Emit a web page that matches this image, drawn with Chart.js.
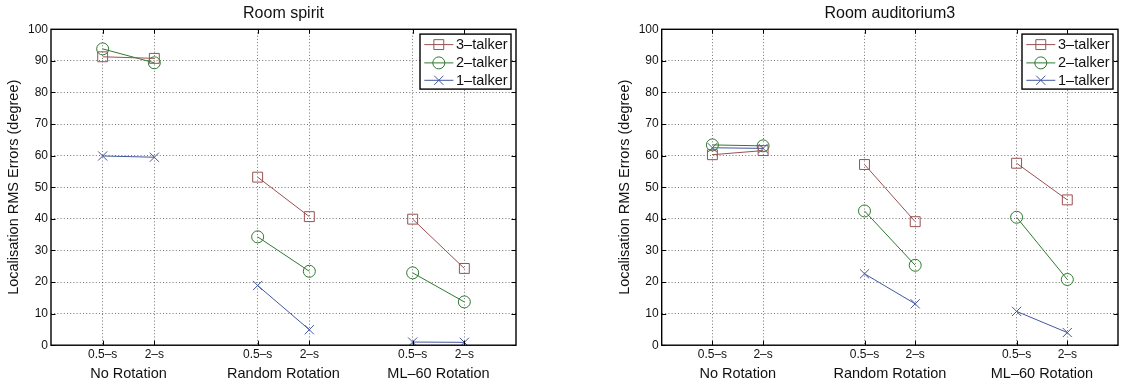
<!DOCTYPE html>
<html>
<head>
<meta charset="utf-8">
<script src="https://cdn.jsdelivr.net/npm/chart.js@4/dist/chart.umd.min.js"></script>
<style>
  html, body { margin: 0; padding: 0; background: #fff; }
  #wrap { position: relative; width: 1126px; height: 385px; overflow: hidden; }
  canvas { position: absolute; top: 0; }
  #c1 { left: 0; }
  #c2 { left: 563px; }
</style>
</head>
<body>
<div id="wrap">
  <canvas id="c1" width="563" height="385"></canvas>
  <canvas id="c2" width="563" height="385"></canvas>
</div>
<script>
// Localisation RMS error (degrees) per condition: [No Rot 0.5s, No Rot 2s, Random 0.5s, Random 2s, ML-60 0.5s, ML-60 2s]
const durationLabels = ['0.5–s', '2–s'];
const conditionLabels = ['No Rotation', 'Random Rotation', 'ML–60 Rotation'];
const seriesNames = ['3–talker', '2–talker', '1–talker'];
const yTickValues = [0, 10, 20, 30, 40, 50, 60, 70, 80, 90, 100];

const spiritThree = [91.3, 90.8, 53.2, 40.7, 39.9, 24.3];
const spiritTwo   = [93.8, 89.4, 34.3, 23.4, 22.9, 13.7];
const spiritOne   = [59.9, 59.5, 18.9, 4.9, 1.0, 0.9];

const audThree = [60.3, 61.6, 57.2, 39.1, 57.6, 46.0];
const audTwo   = [63.4, 63.1, 42.5, 25.3, 40.5, 20.8];
const audOne   = [62.5, 62.3, 22.6, 13.1, 10.7, 4.0];

const FONT = '"Liberation Sans", Arial, Helvetica, sans-serif';
const TEXT = '#111';
const seriesStyles = [
  { color: '#9a5050', pointStyle: 'rect', radius: 7 },
  { color: '#2f7a2f', pointStyle: 'circle', radius: 6 },
  { color: '#4457a0', pointStyle: 'crossRot', radius: 6.5 }
];

// x position of condition c, duration d; groups separated by an empty slot
function xPos(c, d) { return 2 + 3 * c + d; }

function toPoints(values) {
  const pts = [];
  for (let c = 0; c < conditionLabels.length; c++) {
    for (let d = 0; d < durationLabels.length; d++) {
      pts.push({ x: xPos(c, d), y: values[c * 2 + d] });
    }
    if (c < conditionLabels.length - 1) pts.push({ x: xPos(c, 2), y: null }); // break the line between groups
  }
  return pts;
}

function makeDatasets(series) {
  return series.map((vals, i) => ({
    label: seriesNames[i],
    data: toPoints(vals),
    borderColor: seriesStyles[i].color,
    backgroundColor: 'rgba(0,0,0,0)',
    borderWidth: 1,
    pointStyle: seriesStyles[i].pointStyle,
    pointRadius: seriesStyles[i].radius,
    pointBorderWidth: 1,
    pointBorderColor: seriesStyles[i].color,
    pointBackgroundColor: 'rgba(0,0,0,0)',
    spanGaps: false,
    tension: 0
  }));
}

// Axes box with inward tick marks on all four sides
const framePlugin = {
  id: 'frame',
  afterDraw(chart) {
    const { ctx, chartArea: a, scales } = chart;
    ctx.save();
    ctx.strokeStyle = '#000';
    ctx.lineWidth = 1;
    const tl = 4.5;
    ctx.beginPath();
    scales.y.ticks.forEach(t => {
      const p = Math.round(scales.y.getPixelForValue(t.value)) + 0.5;
      ctx.moveTo(a.left, p); ctx.lineTo(a.left + tl, p);
      ctx.moveTo(a.right, p); ctx.lineTo(a.right - tl, p);
    });
    scales.x.ticks.forEach(t => {
      const p = Math.round(scales.x.getPixelForValue(t.value)) + 0.5;
      ctx.moveTo(p, a.bottom); ctx.lineTo(p, a.bottom - tl);
      ctx.moveTo(p, a.top); ctx.lineTo(p, a.top + tl);
    });
    ctx.stroke();
    ctx.lineWidth = 1.4;
    ctx.strokeRect(a.left, a.top, a.right - a.left, a.bottom - a.top);
    ctx.restore();
  }
};

function drawMarker(ctx, style, color, x, y) {
  ctx.strokeStyle = color;
  ctx.fillStyle = 'rgba(0,0,0,0)';
  ctx.lineWidth = 1;
  if (Chart.helpers && Chart.helpers.drawPoint) {
    Chart.helpers.drawPoint(ctx, { pointStyle: style.pointStyle, radius: style.radius, rotation: 0, borderWidth: 1 }, x, y);
  }
}

// Boxed legend in the upper right corner of the plot area
const boxLegendPlugin = {
  id: 'boxLegend',
  afterDraw(chart) {
    const { ctx, chartArea: a } = chart;
    const w = 91, h = 55;
    const left = a.right - 5 - w, top = a.top + 4.8;
    ctx.save();
    ctx.fillStyle = '#fff';
    ctx.fillRect(left, top, w, h);
    ctx.strokeStyle = '#000';
    ctx.lineWidth = 1.4;
    ctx.strokeRect(left, top, w, h);
    const rows = [15.3, 33.6, 51.0];
    chart.data.datasets.forEach((ds, i) => {
      const y = a.top + rows[i];
      const st = seriesStyles[i];
      ctx.strokeStyle = st.color;
      ctx.lineWidth = 1;
      ctx.beginPath();
      ctx.moveTo(left + 4.3, y);
      ctx.lineTo(left + 33.3, y);
      ctx.stroke();
      drawMarker(ctx, st, st.color, left + 18.8, y);
      ctx.fillStyle = TEXT;
      ctx.font = '14.5px ' + FONT;
      ctx.textBaseline = 'middle';
      ctx.textAlign = 'left';
      ctx.fillText(ds.label, left + 36, y + 0.5);
    });
    ctx.restore();
  }
};

function buildChart(canvasId, title, series, padLeft, padRight) {
  return new Chart(document.getElementById(canvasId), {
    type: 'line',
    data: { datasets: makeDatasets(series) },
    options: {
      responsive: false,
      animation: false,
      devicePixelRatio: 1,
      layout: { padding: { left: padLeft, right: padRight, top: 0, bottom: 2.2 } },
      plugins: {
        legend: { display: false },
        tooltip: { enabled: false },
        title: {
          display: true,
          text: title,
          fullSize: false,
          color: TEXT,
          font: { family: FONT, size: 16, weight: 'normal', lineHeight: 1.2 },
          padding: { top: 4.3, bottom: 5.8 }
        }
      },
      scales: {
        x: {
          type: 'linear',
          position: 'bottom',
          weight: 1,
          min: 1,
          max: 10,
          afterBuildTicks(axis) {
            const ticks = [];
            for (let c = 0; c < conditionLabels.length; c++)
              for (let d = 0; d < durationLabels.length; d++) ticks.push({ value: xPos(c, d) });
            axis.ticks = ticks;
          },
          ticks: {
            autoSkip: false,
            maxRotation: 0,
            padding: 2.4,
            color: TEXT,
            font: { family: FONT, size: 12, lineHeight: 1.2 },
            callback: (v, i) => durationLabels[i % durationLabels.length]
          },
          grid: { color: 'rgba(0,0,0,0.55)', lineWidth: 1, drawTicks: false },
          border: { display: false, dash: [1, 2.2] }
        },
        x2: {
          type: 'linear',
          position: 'bottom',
          weight: 2,
          min: 1,
          max: 10,
          afterBuildTicks(axis) {
            axis.ticks = conditionLabels.map((_, c) => ({ value: xPos(c, 0.5) }));
          },
          ticks: {
            autoSkip: false,
            maxRotation: 0,
            padding: 0.5,
            color: TEXT,
            font: { family: FONT, size: 14.5, lineHeight: 1.2 },
            callback: (v, i) => conditionLabels[i]
          },
          grid: { display: false, drawTicks: false },
          border: { display: false }
        },
        y: {
          type: 'linear',
          min: 0,
          max: 100,
          afterBuildTicks(axis) {
            axis.ticks = yTickValues.map(v => ({ value: v }));
          },
          afterFit(axis) { axis.width = 51; },
          ticks: {
            padding: 3,
            color: TEXT,
            font: { family: FONT, size: 12, lineHeight: 1.2 }
          },
          title: {
            display: true,
            text: 'Localisation RMS Errors (degree)',
            color: TEXT,
            font: { family: FONT, size: 14.5, lineHeight: 1.2 },
            padding: { top: 5.6, bottom: 0 }
          },
          grid: { color: 'rgba(0,0,0,0.55)', lineWidth: 1, drawTicks: false },
          border: { display: false, dash: [1, 2.2] }
        }
      }
    },
    plugins: [framePlugin, boxLegendPlugin]
  });
}

buildChart('c1', 'Room spirit', [spiritThree, spiritTwo, spiritOne], 0, 47);
buildChart('c2', 'Room auditorium3', [audThree, audTwo, audOne], 47.7, 1);
</script>
</body>
</html>
